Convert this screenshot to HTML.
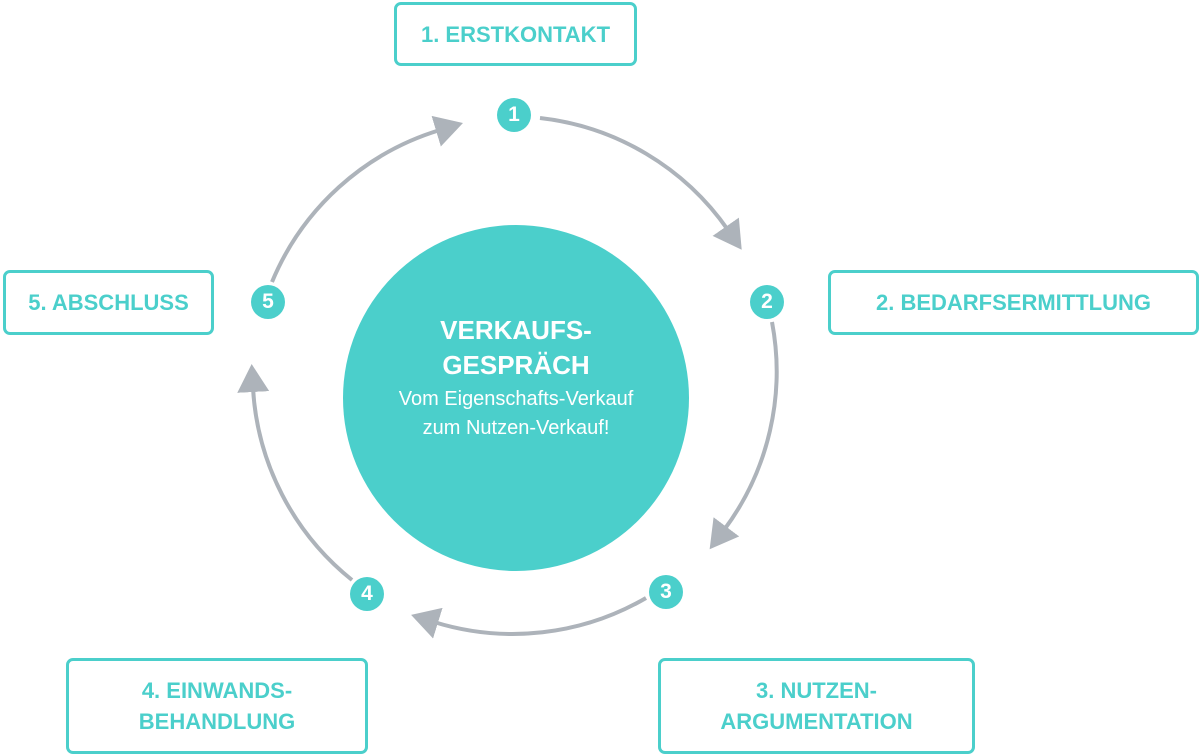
<!DOCTYPE html>
<html><head><meta charset="utf-8"><style>
html,body{margin:0;padding:0;background:#fff;}
body{width:1200px;height:755px;position:relative;overflow:hidden;font-family:"Liberation Sans",sans-serif;}
.box{position:absolute;border:3px solid #4bcfcb;border-radius:7px;box-sizing:border-box;color:#4bcfcb;font-weight:bold;font-size:22px;display:flex;align-items:center;justify-content:center;text-align:center;line-height:31px;}
.n{position:absolute;width:34px;height:34px;border-radius:50%;background:#4bcfcb;color:#fff;font-weight:bold;font-size:21px;display:flex;align-items:center;justify-content:center;}
.c{position:absolute;left:343px;top:225px;width:346px;height:346px;border-radius:50%;background:#4bcfcb;color:#fff;text-align:center;}
</style></head><body>
<svg width="1200" height="755" style="position:absolute;left:0;top:0">
<defs><marker id="a" markerWidth="32" markerHeight="32" refX="4" refY="16" orient="auto" markerUnits="userSpaceOnUse"><path d="M0,0 L28,16 L0,32 Z" fill="#adb3ba"/></marker></defs>
<g fill="none" stroke="#adb3ba" stroke-width="4">
<path d="M540,118 A265,265 0 0 1 728,230" marker-end="url(#a)"/>
<path d="M772,322 A265,265 0 0 1 724,530" marker-end="url(#a)"/>
<path d="M646,598 A265,265 0 0 1 434,622" marker-end="url(#a)"/>
<path d="M352,580 A265,265 0 0 1 253,388" marker-end="url(#a)"/>
<path d="M272,282 A265,265 0 0 1 440,130" marker-end="url(#a)"/>
</g></svg>
<div class="box" style="left:394px;top:2px;width:243px;height:64px">1. ERSTKONTAKT</div>
<div class="box" style="left:828px;top:270px;width:371px;height:65px">2. BEDARFSERMITTLUNG</div>
<div class="box" style="left:3px;top:270px;width:211px;height:65px">5. ABSCHLUSS</div>
<div class="box" style="left:66px;top:658px;width:302px;height:96px">4. EINWANDS-<br>BEHANDLUNG</div>
<div class="box" style="left:658px;top:658px;width:317px;height:96px">3. NUTZEN-<br>ARGUMENTATION</div>
<div class="n" style="left:497px;top:98px">1</div>
<div class="n" style="left:750px;top:285px">2</div>
<div class="n" style="left:649px;top:575px">3</div>
<div class="n" style="left:350px;top:577px">4</div>
<div class="n" style="left:251px;top:285px">5</div>
<div class="c"><div style="margin-top:88px;font-weight:bold;font-size:26px;line-height:35px">VERKAUFS-<br>GESPRÄCH</div><div style="font-size:20px;line-height:29px;margin-top:2px">Vom Eigenschafts-Verkauf<br>zum Nutzen-Verkauf!</div></div>
</body></html>
